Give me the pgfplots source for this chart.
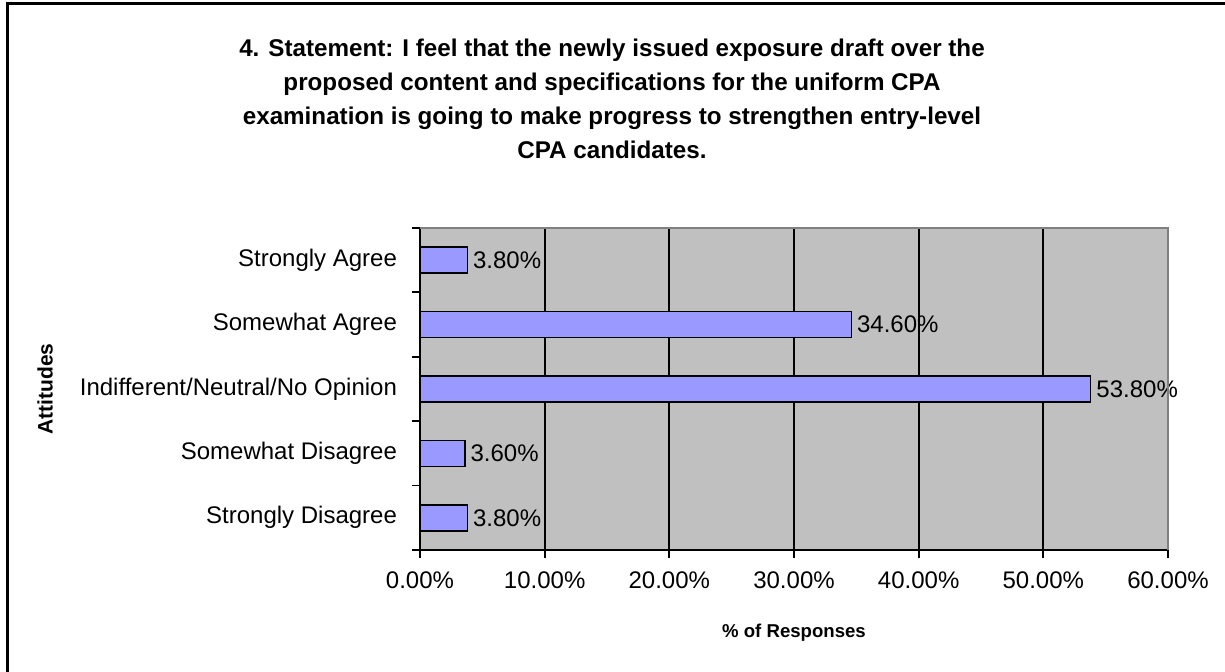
\documentclass[border=0pt]{standalone}
\usepackage{fontspec}
\setmainfont{Liberation Sans}
\usepackage{pgfplots}
\pgfplotsset{compat=1.18}
\definecolor{barblue}{HTML}{9999FF}
\definecolor{plotgray}{HTML}{C0C0C0}
\definecolor{edgegray}{HTML}{808080}

\begin{document}
\begin{tikzpicture}
\useasboundingbox (0,0) rectangle (612.5pt,336pt);
% frame: only left and top edges show
\draw[line width=1.5pt] (3.5pt,0) -- (3.5pt,334pt) -- (612.5pt,334pt);

\node[font=\fontsize{12.1}{17}\selectfont\bfseries, align=center] at (306pt,286.5pt)
  {4. Statement: I feel that the newly issued exposure draft over the\\
   proposed content and specifications for the uniform CPA\\
   examination is going to make progress to strengthen entry-level\\
   CPA candidates.};

\begin{axis}[
    at={(210pt,61pt)}, anchor=south west,
    scale only axis,
    width=374pt, height=161pt,
    xbar, bar width=13pt,
    xmin=0, xmax=60,
    ymin=-0.5, ymax=4.5,
    axis x line*=bottom, axis y line*=left,
    axis line style={black, line width=0.9pt},
    axis background/.style={fill=plotgray},
    xtick={0,10,...,60},
    xmajorgrids, major grid style={black, line width=0.9pt},
    tick align=outside,
    major x tick style={black, line width=0.9pt},
    major tick length=4pt,
    ytick={0,1,2,3,4},
    yticklabels={Strongly Disagree, Somewhat Disagree, Indifferent/Neutral/No Opinion, Somewhat Agree, Strongly Agree},
    major y tick style={draw=none},
    minor ytick={-0.5,0.5,1.5,2.5,3.5,4.5},
    minor y tick style={black, line width=0.9pt},
    minor tick length=4pt,
    /pgf/number format/assume math mode=true,
    xticklabel={\pgfmathprintnumber[fixed,fixed zerofill,precision=2]{\tick}\%},
    ticklabel style={font=\fontsize{12}{14}\selectfont},
    xticklabel style={yshift=-3.5pt},
    yticklabel style={xshift=-4pt},
    xlabel={\textbf{\% of Responses}},
    ylabel={\textbf{Attitudes}},
    xlabel style={font=\fontsize{9.3}{11}\selectfont, at={(axis description cs:0.5,0)}, anchor=center, yshift=-41.5pt},
    ylabel style={font=\fontsize{10.5}{12}\selectfont, at={(axis description cs:-0.5013,0.5)}, anchor=center},
    nodes near coords={\pgfmathprintnumber[fixed,fixed zerofill,precision=2]{\pgfplotspointmeta}\%},
    nodes near coords style={font=\fontsize{12}{14}\selectfont, anchor=west, inner sep=1pt, xshift=1.5pt},
    clip=false,
]
\addplot[draw=black, line width=0.75pt, fill=barblue]
  coordinates {(3.8,0) (3.6,1) (53.8,2) (34.6,3) (3.8,4)};
\end{axis}
\draw[edgegray, line width=1pt] (210pt,222pt) -- (584pt,222pt) -- (584pt,61pt);
\end{tikzpicture}
\end{document}
